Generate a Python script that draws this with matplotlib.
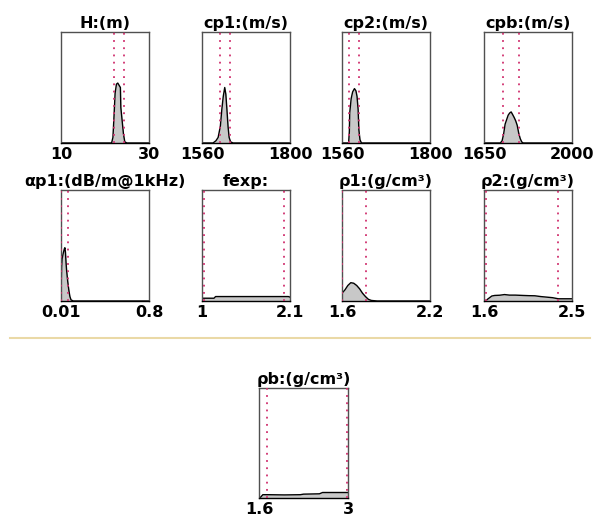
import numpy as np
import matplotlib.pyplot as plt
from matplotlib.lines import Line2D

plt.rcParams['font.family'] = 'DejaVu Sans'
plt.rcParams['font.weight'] = 'bold'

# parameter names and plotting ranges
titles = ['H:(m)', 'cp1:(m/s)', 'cp2:(m/s)', 'cpb:(m/s)',
          'αp1:(dB/m@1kHz)', 'fexp:', 'ρ1:(g/cm³)', 'ρ2:(g/cm³)',
          'ρb:(g/cm³)']
xlims = [(10, 30), (1560, 1800), (1560, 1800), (1650, 2000),
         (0.01, 0.8), (1, 2.1), (1.6, 2.2), (1.6, 2.5), (1.6, 3)]
tick_labels = [('10', '30'), ('1560', '1800'), ('1560', '1800'), ('1650', '2000'),
               ('0.01', '0.8'), ('1', '2.1'), ('1.6', '2.2'), ('1.6', '2.5'),
               ('1.6', '3')]

# dotted bounds for each parameter
bounds = [(22.0, 24.4), (1609, 1635), (1580, 1606), (1724, 1789),
          (0.01, 0.075), (1.03, 2.03), (1.6, 1.765), (1.625, 2.36),
          (1.72, 2.98)]

# posterior densities (scaled to axis height)
pdf_H_x = [10, 21.5, 21.8, 22.0, 22.3, 22.6, 22.9, 23.2, 23.5, 23.6, 23.9, 24.2, 24.5, 25, 30]
pdf_H_y = [0, 0, 0.05, 0.2, 0.45, 0.53, 0.54, 0.52, 0.5, 0.32, 0.2, 0.08, 0.01, 0, 0]

pdf_cp1_x = [1560, 1590, 1598, 1604, 1610, 1614, 1618, 1622, 1625, 1628, 1631, 1634, 1638, 1645, 1800]
pdf_cp1_y = [0, 0, 0.02, 0.05, 0.15, 0.3, 0.42, 0.5, 0.44, 0.3, 0.15, 0.05, 0.01, 0, 0]

pdf_cp2_x = [1560, 1578, 1580, 1581, 1585, 1589, 1594, 1598, 1601, 1604, 1606, 1609, 1613, 1800]
pdf_cp2_y = [0, 0, 0.1, 0.27, 0.4, 0.46, 0.49, 0.47, 0.42, 0.3, 0.12, 0.03, 0, 0]

pdf_cpb_x = [1650, 1715, 1722, 1728, 1734, 1740, 1746, 1752, 1758, 1763, 1770, 1776, 1782,
             1788, 1794, 1800, 1806, 2000]
pdf_cpb_y = [0, 0, 0.02, 0.08, 0.17, 0.21, 0.25, 0.27, 0.28, 0.26, 0.23, 0.2, 0.16,
             0.09, 0.04, 0.01, 0, 0]

pdf_ap1_x = [0.01, 0.012, 0.015, 0.02, 0.03, 0.04, 0.045, 0.05, 0.055, 0.06, 0.07, 0.08,
             0.09, 0.1, 0.12, 0.8]
pdf_ap1_y = [0, 0.15, 0.3, 0.38, 0.43, 0.47, 0.48, 0.44, 0.35, 0.28, 0.18, 0.1,
             0.04, 0.01, 0, 0]

pdf_fexp_x = [1.0, 1.15, 1.17, 2.08, 2.1]
pdf_fexp_y = [0.025, 0.025, 0.04, 0.04, 0.035]

pdf_rho1_x = [1.6, 1.62, 1.64, 1.66, 1.68, 1.70, 1.72, 1.74, 1.76, 1.78, 1.80, 1.84, 2.2]
pdf_rho1_y = [0.07, 0.1, 0.14, 0.165, 0.16, 0.14, 0.11, 0.07, 0.04, 0.015, 0.005, 0, 0]

pdf_rho2_x = [1.6, 1.62, 1.65, 1.68, 1.71, 1.76, 1.81, 1.86, 1.92, 2.0, 2.06, 2.12, 2.18,
              2.24, 2.3, 2.36, 2.42, 2.5]
pdf_rho2_y = [0, 0.005, 0.025, 0.045, 0.05, 0.052, 0.058, 0.053, 0.053, 0.05, 0.048, 0.047,
              0.04, 0.035, 0.03, 0.02, 0.02, 0.02]

pdf_rhob_x = [1.6, 1.63, 1.66, 1.75, 2.0, 2.25, 2.3, 2.55, 2.6, 3.0]
pdf_rhob_y = [0, 0.01, 0.03, 0.03, 0.028, 0.03, 0.035, 0.038, 0.05, 0.05]

pdf_x = [pdf_H_x, pdf_cp1_x, pdf_cp2_x, pdf_cpb_x, pdf_ap1_x, pdf_fexp_x,
         pdf_rho1_x, pdf_rho2_x, pdf_rhob_x]
pdf_y = [pdf_H_y, pdf_cp1_y, pdf_cp2_y, pdf_cpb_y, pdf_ap1_y, pdf_fexp_y,
         pdf_rho1_y, pdf_rho2_y, pdf_rhob_y]

W, H = 595, 522
fig = plt.figure(figsize=(W / 100, H / 100), dpi=100)

# axes boxes in pixels: left, top, width, height
col_left = [61, 202, 342, 484]
boxes = []
for c in col_left:
    boxes.append((c, 32, 88, 111))
for c in col_left:
    boxes.append((c, 190, 88, 111))
boxes.append((259, 388, 89, 110))

for i in range(9):
    l, t, w, h = boxes[i]
    ax = fig.add_axes([l / W, 1 - (t + h) / H, w / W, h / H])
    x0, x1 = xlims[i]
    ax.fill_between(pdf_x[i], pdf_y[i], 0, color='#c8c8c8', lw=0, zorder=1)
    ax.plot(pdf_x[i], pdf_y[i], color='black', lw=1.0, zorder=2)
    for b in bounds[i]:
        ax.axvline(b, color='#d0306e', lw=1.3, ls=(0, (1, 3)), zorder=3)
    ax.set_xlim(x0, x1)
    ax.set_ylim(0, 1)
    ax.set_yticks([])
    ax.set_xticks([x0, x1])
    ax.set_xticklabels(tick_labels[i], fontsize=11.5, fontweight='bold')
    ax.tick_params(axis='x', length=0, pad=3)
    for s in ax.spines.values():
        s.set_color('#505050')
        s.set_linewidth(1.0)
    ax.spines['bottom'].set_color('black')
    ax.set_title(titles[i], fontsize=11.5, fontweight='bold', pad=3)

# separator between the two groups
fig.add_artist(Line2D([10 / W, 590 / W], [1 - 338 / H, 1 - 338 / H],
                      transform=fig.transFigure, color='#ead9a6', lw=1.5))

fig.savefig('out.png', dpi=100)
